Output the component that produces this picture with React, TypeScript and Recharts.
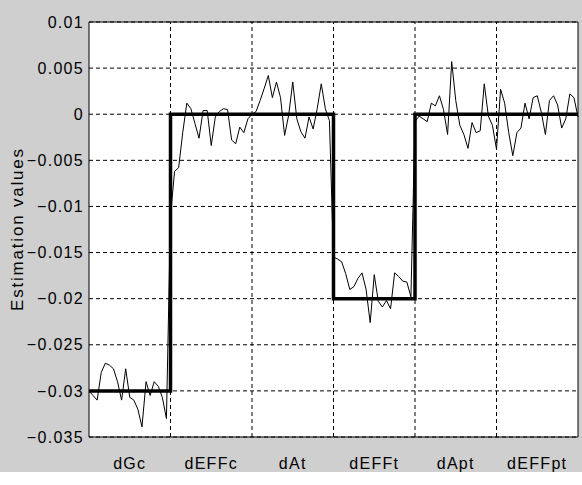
import React from "react";
import {
  LineChart,
  Line,
  XAxis,
  YAxis,
  CartesianGrid,
  ReferenceLine,
  ReferenceArea,
} from "recharts";

// parameter names, one per segment on the x axis
const categories = ["dGc", "dEFFc", "dAt", "dEFFt", "dApt", "dEFFpt"];

// true values (step) for each parameter
const trueValues = [-0.03, 0, 0, -0.02, 0, 0];

// noisy estimates, 20 samples per parameter segment
const estDGc = [
  -0.03, -0.0305, -0.031, -0.028, -0.027, -0.0272, -0.0276, -0.029, -0.031, -0.0276,
  -0.0307, -0.031, -0.032, -0.0339, -0.029, -0.0305, -0.029, -0.0295, -0.0307, -0.033,
];
const estDEFFc = [
  -0.011, -0.0062, -0.0058, -0.002, 0.0012, 0.0006, -0.001, -0.0026, 0.0004, 0.0004,
  -0.0034, -0.0003, 0.0003, 0.0006, 0.0005, -0.0028, -0.0032, -0.0014, -0.002, -0.0005,
];
const estDAt = [
  0, 0.0003, 0.0015, 0.0028, 0.0042, 0.0018, 0.0035, 0.0018, -0.0023, -0.0001,
  0.0035, -0.0005, -0.0019, -0.0026, -0.0003, -0.0016, 0.0006, 0.0033, 0.0006, -0.0007,
];
const estDEFFt = [
  -0.0155, -0.0157, -0.016, -0.0173, -0.019, -0.0187, -0.0178, -0.0172, -0.019, -0.0226,
  -0.0174, -0.0203, -0.0209, -0.0202, -0.0211, -0.0172, -0.0176, -0.0181, -0.0182, -0.0198,
];
const estDApt = [
  -0.0008, -0.0002, -0.0005, -0.0008, 0.0012, 0.0009, 0.002, 0.0005, -0.0022, 0.0057,
  0.0015, -0.0012, -0.0022, -0.0037, -0.0009, -0.002, -0.0018, 0.0033, -0.0002, -0.0012,
];
const estDEFFpt = [
  -0.0038, 0.0027, 0.0012, -0.002, -0.0045, -0.002, -0.0015, 0.0012, -0.0005, 0.0018,
  0.002, 0.0002, -0.0022, 0.0015, 0.002, 0.001, -0.0015, -0.0005, 0.0022, 0.0018, -0.0003,
];

const yTicks = [0.01, 0.005, 0, -0.005, -0.01, -0.015, -0.02, -0.025, -0.03, -0.035];

const segments = [estDGc, estDEFFc, estDAt, estDEFFt, estDApt, estDEFFpt];

const estimateData = segments.flatMap((vals, s) =>
  vals.map((v, i) => ({ x: s + i / 20, y: v }))
);

const trueData = [
  ...trueValues.map((v, i) => ({ x: i, y: v })),
  { x: categories.length, y: trueValues[trueValues.length - 1] },
];

const centerTicks = categories.map((_, i) => i + 0.5);
const boundaries = [1, 2, 3, 4, 5];

const font = "'Liberation Sans', Arial, sans-serif";
const tickStyle = { fontSize: 16, fill: "#000", fontFamily: font, letterSpacing: 1.3 };

export default function App() {
  return (
    <div style={{ position: "relative", width: 582, height: 485, background: "#fff" }}>
      <style>{"body{margin:0}"}</style>
      <div
        style={{
          position: "absolute",
          left: 0,
          top: 0,
          width: 582,
          height: 472,
          background: "#cfcfcf",
        }}
      />
      <div
        style={{
          position: "absolute",
          left: 18,
          top: 229,
          transform: "translate(-50%, -50%) rotate(-90deg)",
          whiteSpace: "nowrap",
          fontFamily: font,
          fontSize: 17,
          letterSpacing: 1.8,
          color: "#000",
        }}
      >
        Estimation values
      </div>
      <div style={{ position: "absolute", left: 0, top: 0 }}>
        <LineChart
          width={582}
          height={485}
          margin={{ top: 22, right: 4, left: 0, bottom: 0 }}
        >
          <CartesianGrid
            vertical={false}
            stroke="#000"
            strokeDasharray="4 3"
            fill="#fff"
            fillOpacity={1}
          />
          <XAxis
            type="number"
            dataKey="x"
            domain={[0, 6]}
            ticks={centerTicks}
            tickFormatter={(v: number) => categories[Math.floor(v)]}
            height={48}
            tickLine={false}
            axisLine={false}
            tickSize={0}
            tickMargin={21}
            tick={tickStyle}
          />
          <YAxis
            type="number"
            domain={[-0.035, 0.01]}
            ticks={yTicks}
            width={89}
            tickLine={false}
            axisLine={false}
            tickSize={3}
            tickMargin={2}
            tickFormatter={(v: number) => String(v).replace("-", "\u2212")}
            tick={tickStyle}
          />
          {boundaries.map((b) => (
            <ReferenceLine key={b} x={b} stroke="#000" strokeDasharray="4 3" />
          ))}
          <Line
            data={estimateData}
            dataKey="y"
            type="linear"
            stroke="#000"
            strokeWidth={1}
            dot={false}
            isAnimationActive={false}
          />
          <Line
            data={trueData}
            dataKey="y"
            type="stepAfter"
            stroke="#000"
            strokeWidth={3.5}
            dot={false}
            isAnimationActive={false}
          />
          <ReferenceArea
            x1={0}
            x2={6}
            y1={-0.035}
            y2={0.01}
            fill="none"
            stroke="#000"
            strokeWidth={1}
            ifOverflow="visible"
          />
        </LineChart>
      </div>
    </div>
  );
}
